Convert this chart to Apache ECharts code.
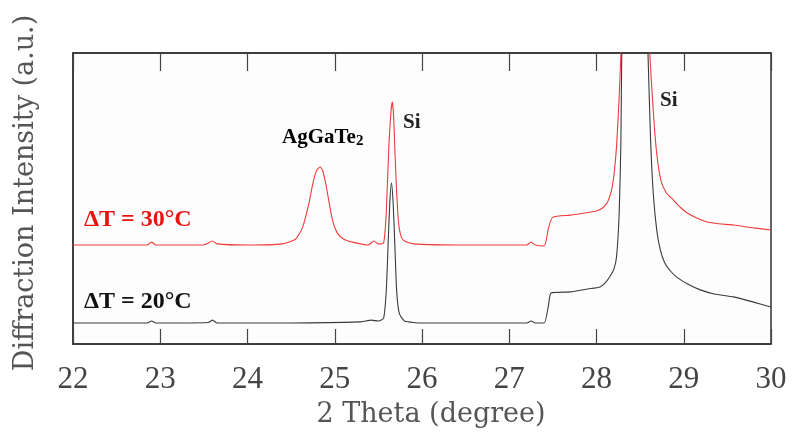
<!DOCTYPE html>
<html><head><meta charset="utf-8">
<script src="https://cdn.jsdelivr.net/npm/echarts@6/dist/echarts.min.js"></script>
<style>html,body{margin:0;padding:0;background:#fff}#c{width:793px;height:432px}</style>
</head><body><div id="c"></div>
<script>
// 2θ positions and intensities (arbitrary units, 0..100 visible range)
const redX = [22.0,22.5,22.85,22.9,22.95,23.5,23.55,23.6,23.65,24.0,24.4,24.55,24.63,24.7,24.75,24.79,24.83,24.86,24.9,24.94,24.98,25.03,25.1,25.2,25.3,25.38,25.45,25.5,25.56,25.59,25.62,25.645,25.66,25.675,25.69,25.71,25.73,25.76,25.8,25.9,26.5,27.0,27.2,27.25,27.3,27.4,27.45,27.5,27.7,27.9,28.0,28.08,28.13,28.17,28.2,28.23,28.26,28.28,28.32,28.44,28.57,28.61,28.64,28.67,28.7,28.74,28.8,28.88,28.96,29.04,29.15,29.27,29.4,29.57,29.8,30.0];
const redY = [34.0,34.0,34.0,35.0,34.0,34.0,34.7,35.4,34.4,34.0,34.4,36.0,40.0,47.8,55.3,59.5,60.8,59.8,54.6,47.8,41.9,38.1,36.1,35.0,34.4,34.0,35.4,34.4,34.7,45.0,68.0,80.0,83.2,78.0,66.0,52.0,42.0,37.0,35.4,34.4,34.0,34.0,34.0,35.0,34.0,33.7,39.9,43.6,44.3,45.2,45.7,47.0,49.0,52.5,58.0,68.0,85.0,100,130,200,130,100,85.0,72.0,63.0,56.0,52.0,49.5,47.0,45.0,43.3,41.9,41.3,40.9,39.9,39.2];
const blackX = [22.0,22.85,22.9,22.95,23.55,23.6,23.65,24.5,25.3,25.42,25.5,25.56,25.59,25.61,25.63,25.65,25.67,25.69,25.71,25.74,25.8,26.0,27.2,27.25,27.3,27.4,27.45,27.48,27.7,27.9,28.04,28.1,28.15,28.2,28.23,28.26,28.28,28.29,28.33,28.44,28.56,28.59,28.62,28.65,28.69,28.73,28.78,28.85,28.92,29.05,29.19,29.35,29.57,29.8,30.0];
const blackY = [7.2,7.2,7.9,7.2,7.4,8.2,7.2,7.2,7.6,8.2,7.9,8.9,18.0,33.0,48.0,55.3,48.0,33.0,18.0,10.5,7.9,7.2,7.2,7.9,7.2,7.2,13.4,17.5,17.9,18.9,19.6,21.0,23.0,25.8,30.0,45.0,70.0,100,130,200,130,100,70.0,52.0,39.2,32.5,28.0,25.0,23.0,20.5,18.6,17.2,16.2,14.4,12.7];
const xTicks = [22,23,24,25,26,27,28,29,30];
const seriesNames = ['ΔT = 30°C','ΔT = 20°C'];
const xTitle = '2 Theta (degree)';
const yTitle = 'Diffraction Intensity (a.u.)';

const zip = (xs, ys) => xs.map((x, i) => [x, ys[i]]);
const chart = echarts.init(document.getElementById('c'), null, {renderer:'canvas'});
const serif = '"Liberation Serif","DejaVu Serif",serif';
const wide = '"DejaVu Serif","Liberation Serif",serif';
chart.setOption({
  backgroundColor:'#fff',
  animation:false,
  grid:{left:73,right:22,top:53,bottom:88,show:true,borderColor:'#333',borderWidth:1.5,backgroundColor:'#fdfdfd'},
  xAxis:[{
    type:'value',min:xTicks[0],max:xTicks[xTicks.length-1],interval:1,position:'bottom',
    axisLine:{show:true,lineStyle:{color:'#333',width:1.5}},
    axisTick:{show:true,inside:true,length:15,lineStyle:{color:'#444',width:1.2}},
    splitLine:{show:false},
    axisLabel:{fontFamily:serif,fontSize:31,color:'#444',margin:20}
  },{
    type:'value',min:xTicks[0],max:xTicks[xTicks.length-1],interval:1,position:'top',
    axisLine:{show:true,lineStyle:{color:'#333',width:1.5}},
    axisTick:{show:true,inside:true,length:18,lineStyle:{color:'#444',width:1.2}},
    axisLabel:{show:false},splitLine:{show:false}
  }],
  yAxis:{
    type:'value',min:0,max:100,
    axisLine:{show:true,lineStyle:{color:'#333',width:1.5}},
    axisTick:{show:false},axisLabel:{show:false},splitLine:{show:false}
  },
  series:[
    {name:seriesNames[0],type:'line',data:zip(redX,redY),symbol:'none',clip:true,
     smooth:0.2,lineStyle:{color:'#f03a3a',width:1.1}},
    {name:seriesNames[1],type:'line',data:zip(blackX,blackY),symbol:'none',clip:true,
     smooth:0.2,lineStyle:{color:'#3a3a3a',width:1.1}}
  ],
  graphic:[
    {type:'text',x:431,y:415,style:{text:xTitle,font:'27px '+wide,fill:'#555',align:'center',verticalAlign:'middle'}},
    {type:'text',x:26,y:193,rotation:Math.PI/2,style:{text:yTitle,font:'27px '+wide,fill:'#555',align:'center',verticalAlign:'middle'}},
    {type:'text',left:84,top:208,style:{text:seriesNames[0],font:'bold 24px '+serif,fill:'#ee1111'}},
    {type:'text',left:84,top:290,style:{text:seriesNames[1],font:'bold 24px '+serif,fill:'#111'}},
    {type:'text',left:282,top:127,style:{text:'{a|AgGaTe}{s|2}',rich:{
      a:{fontFamily:serif,fontWeight:'bold',fontSize:21,color:'#222'},
      s:{fontFamily:serif,fontWeight:'bold',fontSize:15,color:'#222',padding:[8,0,0,0]}}}},
    {type:'text',left:403,top:112,style:{text:'Si',font:'bold 21px '+serif,fill:'#222'}},
    {type:'text',left:660,top:90,style:{text:'Si',font:'bold 21px '+serif,fill:'#222'}}
  ]
});
</script></body></html>
